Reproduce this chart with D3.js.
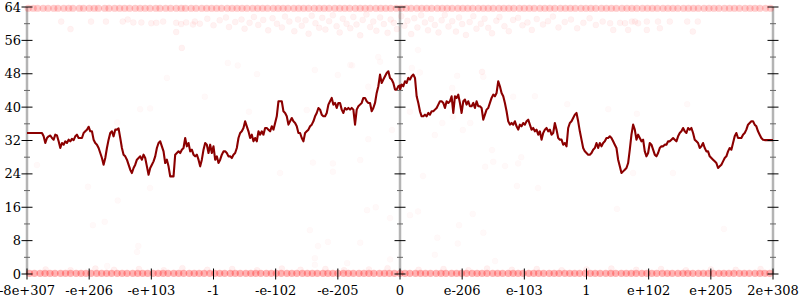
<!DOCTYPE html>
<html lang="en">
<head>
<meta charset="UTF-8">
<title>Dual exponent scatter</title>
<script src="https://d3js.org/d3.v7.min.js"></script>
<style>
    body { margin: 0; background: #fff; }
    text { font-family: "DejaVu Serif", serif; font-size: 13px; fill: #000; }
</style>
</head>
<body>
<script>
// tick labels along the x axis (one per tick unit, -6 .. 6)
var xLabels = ["-8e+307", "-e+206", "-e+103", "-1", "-e-102", "-e-205", "0",
               "e-206", "e-103", "1", "e+102", "e+205", "2e+308"];
var yMajor = [0, 8, 16, 24, 32, 40, 48, 56, 64];
var yMinor = [4, 12, 20, 28, 36, 44, 52, 60];

// running line, negative half (from -8e+307 up to 0)
var leftLine = [
    33.8,33.8,33.8,33.8,33.8,33.8,33.8,33.8,33.8,33.8,
    33.0,31.4,32.6,33.0,33.2,32.6,32.2,33.4,33.2,31.8,
    30.2,31.4,31.0,31.8,31.4,32.2,31.8,32.4,32.1,33.0,
    33.4,32.6,32.6,32.6,33.8,34.2,34.6,35.3,34.2,34.2,
    32.2,31.4,31.0,30.2,29.0,27.8,26.2,27.8,30.2,32.2,
    33.8,34.2,33.0,34.6,34.6,34.9,32.6,30.2,28.6,28.2,
    27.4,26.2,25.0,24.2,25.4,26.2,27.4,27.8,28.2,27.4,
    28.6,27.8,25.8,23.8,25.4,26.2,27.0,28.2,30.2,31.4,
    31.8,30.6,29.4,26.6,27.4,25.8,23.4,23.4,23.4,28.6,
    29.0,29.4,29.0,29.8,30.2,32.6,30.6,31.4,29.4,29.8,
    28.6,28.2,28.6,27.4,25.8,27.4,29.8,31.4,31.0,29.0,
    31.0,29.0,30.6,27.4,28.2,26.6,27.4,28.6,29.4,29.4,
    29.0,28.2,28.2,27.8,28.6,29.0,30.2,32.6,33.8,34.2,
    35.0,36.6,35.4,34.2,32.6,33.4,31.8,32.6,31.8,34.2,
    33.4,34.2,33.4,35.0,35.0,34.6,34.2,35.4,34.6,36.2,
    37.8,41.4,41.4,41.4,39.0,38.6,37.8,35.8,36.6,37.4,
    36.6,36.2,35.4,33.8,33.8,32.6,31.8,33.8,34.2,34.6,
    35.4,35.8,36.6,37.8,38.6,39.8,39.4,38.2,37.8,37.8,
    38.6,40.6,41.4,42.2,40.6,41.0,39.8,41.0,41.0,39.4,
    38.6,39.8,39.4,39.8,39.4,39.8,39.4,35.8,39.4,40.2,
    40.6,41.0,42.2,42.2,41.4,41.0,41.0,39.0,39.8,41.0,
    43.4,45.0,47.8,45.8,46.6,47.4,48.2,48.6,47.0,46.6,
    45.8,44.2,44.2,45.0,45.2
];
// running line, positive half (from 0 up to 2e+308)
var rightLine = [
    44.2,45.4,45.0,46.2,45.8,47.0,46.6,47.4,47.8,47.0,
    42.6,41.0,39.0,37.8,37.8,38.2,37.8,38.6,38.2,39.0,
    39.0,39.4,39.8,40.6,41.4,41.4,41.0,39.8,41.4,41.0,
    41.4,42.6,38.6,42.6,42.2,43.0,41.0,38.6,41.4,41.8,
    40.6,41.4,40.2,40.2,41.0,39.8,41.4,40.2,40.2,39.8,
    37.0,38.2,39.4,39.8,41.0,42.2,43.0,42.6,43.4,46.2,
    45.0,43.4,42.6,41.0,39.0,36.6,35.8,36.2,35.8,36.6,
    35.4,34.6,35.8,35.4,36.2,35.8,36.6,37.0,35.8,34.6,
    35.0,34.2,34.6,33.4,34.2,32.2,33.8,34.6,35.0,34.2,
    34.6,33.4,33.8,36.2,34.6,32.6,32.2,32.2,31.0,31.4,
    30.6,35.0,36.2,36.6,37.4,38.2,38.6,36.6,34.2,32.2,
    30.2,29.4,29.0,28.6,28.6,29.0,29.8,30.2,31.4,30.2,
    31.4,30.6,31.4,31.8,32.6,32.6,33.0,32.6,31.8,31.0,
    30.2,27.4,25.8,24.2,24.6,25.0,25.4,26.6,29.8,33.4,
    35.8,34.6,32.2,33.4,32.6,31.8,32.2,29.4,28.2,29.0,
    31.4,31.0,29.8,28.6,28.2,29.0,30.2,30.6,30.6,31.0,
    31.0,31.8,31.8,32.2,32.6,32.2,31.8,33.0,33.8,34.2,
    35.0,34.2,33.8,35.0,34.6,35.0,33.8,32.2,31.8,31.4,
    30.2,30.6,31.4,30.2,29.4,29.4,28.2,27.8,27.4,27.0,
    26.6,25.4,25.8,26.2,27.0,27.8,28.2,29.4,30.2,29.8,
    31.4,33.0,33.8,32.6,32.6,32.6,33.4,33.8,34.6,35.8,
    36.2,36.6,36.6,35.8,35.4,34.2,33.4,32.6,32.2,32.1,
    32.1,32.1,32.1,32.1,32.1
];

// saturated samples piled at the top (64) and bottom (0), x in tick units
var topBand = [-5.98,-5.9,-5.83,-5.74,-5.66,-5.57,-5.5,-5.41,-5.33,-5.26,-5.16,-5.09,-5.0,-4.92,-4.85,-4.75,-4.68,-4.59,-4.51,-4.43,-4.35,-4.26,-4.18,-4.1,-4.02,-3.93,-3.86,-3.77,-3.69,-3.6,-3.52,-3.45,-3.36,-3.28,-3.19,-3.11,-3.03,-2.95,-2.87,-2.78,-2.7,-2.62,-2.54,-2.46,-2.37,-2.29,-2.21,-2.13,-2.04,-1.96,-1.88,-1.8,-1.71,-1.63,-1.55,-1.47,-1.38,-1.3,-1.22,-1.14,-1.05,-0.97,-0.89,-0.81,-0.72,-0.64,-0.56,-0.48,-0.39,-0.31,-0.23,-0.15,-0.06,0.02,0.1,0.18,0.27,0.35,0.43,0.51,0.6,0.68,0.76,0.84,0.93,1.01,1.09,1.17,1.26,1.34,1.42,1.5,1.59,1.67,1.75,1.83,1.92,2.0,2.08,2.16,2.25,2.33,2.41,2.49,2.58,2.66,2.74,2.82,2.91,2.99,3.07,3.15,3.24,3.32,3.4,3.48,3.57,3.65,3.73,3.81,3.9,3.98,4.06,4.14,4.23,4.31,4.39,4.47,4.56,4.64,4.72,4.8,4.89,4.97,5.05,5.13,5.22,5.3,5.38,5.46,5.55,5.63,5.71,5.79,5.88,5.96];
var bottomBand = [-5.96,-5.88,-5.79,-5.71,-5.63,-5.55,-5.46,-5.38,-5.3,-5.21,-5.13,-5.05,-4.97,-4.88,-4.8,-4.72,-4.64,-4.55,-4.47,-4.39,-4.3,-4.22,-4.14,-4.06,-3.97,-3.89,-3.81,-3.73,-3.64,-3.56,-3.48,-3.39,-3.31,-3.23,-3.15,-3.06,-2.98,-2.9,-2.82,-2.73,-2.65,-2.57,-2.48,-2.4,-2.32,-2.24,-2.15,-2.07,-1.99,-1.91,-1.82,-1.74,-1.66,-1.57,-1.49,-1.41,-1.33,-1.24,-1.16,-1.08,-1.0,-0.91,-0.83,-0.75,-0.66,-0.58,-0.5,-0.42,-0.33,-0.25,-0.17,-0.09,0.0,0.08,0.16,0.25,0.33,0.41,0.49,0.58,0.66,0.74,0.83,0.91,0.99,1.07,1.16,1.24,1.32,1.4,1.49,1.57,1.65,1.74,1.82,1.9,1.98,2.07,2.15,2.23,2.31,2.4,2.48,2.56,2.65,2.73,2.81,2.89,2.98,3.06,3.14,3.22,3.31,3.39,3.47,3.56,3.64,3.72,3.8,3.89,3.97,4.05,4.13,4.22,4.3,4.38,4.47,4.55,4.63,4.71,4.8,4.88,4.96,5.04,5.13,5.21,5.29,5.37,5.46,5.54,5.62,5.71,5.79,5.87,5.95];

// near-saturated cloud just under the top, [x, y]
var topCloud = [
    [-5.45,60.5],[-5.3,58.7],[-4.97,60.5],[-4.73,60.5],[-4.46,60.5],[-4.38,61],[-4.29,60.3],[-4.16,60.3],
    [-4.0,60.1],[-3.92,60.2],[-3.81,60.5],[-3.6,60.2],[-3.6,58],[-3.52,59.9],[-3.51,54.2],[-3.44,60.3],
    [-3.33,59.8],[-3.3,60.5],[-3.22,60],
    [-3.1,61.2],[-3.0,59.6],[-2.9,60.8],[-2.8,61.5],[-2.75,59.2],[-2.65,60.4],[-2.55,61.0],[-2.5,58.8],
    [-2.42,60.2],[-2.35,61.6],[-2.28,59.7],[-2.2,60.9],[-2.12,58.4],[-2.05,61.3],[-1.98,60.0],[-1.9,59.1],
    [-1.85,61.7],[-1.78,60.5],[-1.7,58.2],[-1.64,61.0],[-1.58,59.5],[-1.52,60.8],[-1.47,57.6],[-1.42,61.9],
    [-1.36,60.1],[-1.3,59.0],[-1.25,61.4],[-1.2,58.6],[-1.14,60.6],[-1.08,62.0],[-1.02,59.4],[-0.97,57.9],
    [-0.92,61.2],[-0.86,60.0],[-0.8,58.9],[-0.75,61.6],[-0.7,59.8],[-0.64,57.2],[-0.6,60.9],[-0.54,62.2],
    [-0.48,59.2],[-0.43,60.5],[-0.38,58.3],[-0.32,61.5],[-0.26,59.9],[-0.2,57.8],[-0.15,61.0],[-0.1,60.2],
    [-0.05,58.7],[0.02,61.8],[0.07,59.5],[0.12,60.7],[0.18,57.5],[0.23,61.3],[0.28,59.1],[0.34,62.0],
    [0.4,60.3],[0.45,58.4],[0.5,61.1],[0.56,59.7],[0.62,57.9],[0.67,60.8],[0.72,62.1],[0.78,59.3],
    [0.84,60.6],[0.9,58.1],[0.95,61.5],[1.0,59.9],[1.06,57.3],[1.12,60.4],[1.18,61.8],[1.23,58.8],
    [1.3,60.0],[1.36,61.2],[1.42,59.0],[1.48,57.7],[1.55,60.7],[1.6,61.6],[1.68,59.4],[1.75,58.2],
    [1.82,60.9],[1.9,61.4],[1.97,59.6],[2.05,60.3],[2.12,58.5],[2.2,61.1],[2.3,59.8],[2.38,60.6],
    [2.46,61.7],[2.55,59.1],[2.65,60.4],[2.75,61.0],[2.85,58.9],[2.95,60.2],[3.05,61.3],[3.15,59.7],
    [3.26,60.5],[3.38,60.1],[3.43,58.5],[3.54,60.2],[3.62,60.1],[3.67,58.5],[3.73,60.5],[3.78,60.5],
    [3.83,60.1],[3.97,60.5],[3.97,58.5],[4.15,60.5],[4.18,58.9],[4.34,60.5],[4.62,60.5],[4.71,58.1],[4.79,60.5]
];
// faint samples just above the floor, [x, y]
var lowCloud = [
    [-5.7,1.1],[-5.3,0.9],[-4.9,1.3],[-4.6,1.0],[-4.2,1.2],[-3.8,0.9],[-3.5,1.4],[-3.1,1.0],
    [-2.7,1.2],[-2.3,0.9],[-1.9,1.3],[-1.6,1.0],[-1.2,1.2],[-0.9,0.9],[-0.5,1.1],[-0.2,1.4],
    [0.3,1.0],[0.7,1.2],[1.1,0.9],[1.4,1.3],[1.8,1.0],[2.2,1.2],[2.6,0.9],[3.0,1.1],
    [3.4,1.3],[3.8,1.0],[4.2,1.2],[4.6,0.9],[5.0,1.1],[5.4,1.0],[5.8,1.2]
];
// sparse samples scattered through the middle, [x, y]
var midCloud = [
    [-4.94,11.7],[-4.75,12.5],[-4.54,17.6],[-4.23,5.3],[-4.21,6.7],[-4.71,1.9],[-0.39,16],[-0.53,15.3],
    [-0.16,13.4],[0.16,14.1],[0.29,15],[1.17,14.4],[-1.45,10.5],[-1.16,7.7],[-1.32,6.7],[-0.64,7.5],
    [0.6,8.7],[0.95,11.7],[1.34,9.9],[0.93,7.3],[0.56,4.6],[-1.37,3.8],[-1.37,2.2],[-0.85,2.6],
    [1.53,3.1],[-0.16,3.5],[-1.37,48.9],[-0.32,50.9],[-0.8,50.1],[0.29,53.7],[1.32,48.5],[-1.0,47.7],
    [-2.77,50.6],[-2.61,50],[-3.75,47],[-2.3,47.9],[-3.14,42.5],[-0.77,50],[-0.35,52],[-0.51,44.9],
    [-4.18,39.5],[-4.02,39.7],[-1.5,39.3],[-2.43,38.9],[-4.55,36.3],[-0.13,34.5],[-0.51,32.3],[-5.84,26.1],
    [-1.4,26.7],[-0.64,27.3],[-1.08,26.5],[-1.08,24.5],[-1.93,24.2],[-5.02,20.9],[-4.02,20.6],[0.19,49.4],
    [0.32,48.3],[0.92,47.5],[1.32,48.4],[1.34,47.3],[0.84,44.6],[1.82,42.5],[2.17,42.6],[2.69,40.7],
    [3.35,39.5],[4.62,40.7],[3.81,38.4],[0.16,38.9],[0.85,37.7],[1.13,36.2],[0.68,36.2],[0.56,33.3],
    [1.01,34.5],[1.48,29.7],[1.5,26.9],[1.95,28],[1.9,26.5],[1.69,25.9],[1.37,25.7],[0.37,23.5],
    [3.75,24.2],[4.39,24.2],[1.88,21.1],[2.22,20.6],[3.49,15.6],[5.21,10.8]
];

var width = 800, height = 300;
var x = d3.scaleLinear().domain([-6, 6]).range([27, 773]);
var y = d3.scaleLinear().domain([0, 64]).range([274, 7]);
var iLeft = d3.scaleLinear().domain([0, leftLine.length - 1]).range([-6, 0]);
var iRight = d3.scaleLinear().domain([0, rightLine.length - 1]).range([0, 6]);

var svg = d3.select("body").append("svg")
    .attr("width", width)
    .attr("height", height);

// axis spines at both ends and at zero
var spines = [-6, 0, 6];
svg.selectAll(".spine").data(spines).enter().append("line")
    .attr("class", "spine")
    .attr("x1", d => x(d)).attr("x2", d => x(d))
    .attr("y1", y(64)).attr("y2", y(0))
    .attr("stroke", "#b4b4b4").attr("stroke-width", 2.5);

// scatter clouds
function dots(cls, data, r, fo, so) {
    svg.selectAll("." + cls).data(data).enter().append("circle")
        .attr("class", cls)
        .attr("cx", d => x(d[0]))
        .attr("cy", d => y(d[1]))
        .attr("r", r)
        .attr("fill", "red").attr("fill-opacity", fo)
        .attr("stroke", "red").attr("stroke-opacity", so).attr("stroke-width", 0.6);
}
dots("mid", midCloud, 3, 0.025, 0.03);
dots("low", lowCloud, 3, 0.06, 0.05);
dots("topc", topCloud, 3, 0.05, 0.05);
dots("topb", topBand.map(v => [v, 63.7]), 3.6, 0.2, 0);
dots("botb", bottomBand.map(v => [v, 0.15]), 3.6, 0.3, 0);

// the line
var line = d3.line().x(d => x(d[0])).y(d => y(d[1]));
var pts = leftLine.map((v, i) => [iLeft(i), v]).concat(rightLine.map((v, i) => [iRight(i), v]));
svg.append("path").datum(pts)
    .attr("d", line)
    .attr("fill", "none")
    .attr("stroke", "#8b0000")
    .attr("stroke-width", 2.1)
    .attr("stroke-linejoin", "round");

// y ticks on each spine
spines.forEach(function (s) {
    var cx = x(s);
    svg.selectAll(".mn" + (s + 6)).data(yMinor).enter().append("line")
        .attr("x1", cx - 3).attr("x2", cx + 3)
        .attr("y1", d => y(d)).attr("y2", d => y(d))
        .attr("stroke", "#666").attr("stroke-width", 1);
    svg.selectAll(".mj" + (s + 6)).data(yMajor).enter().append("line")
        .attr("x1", cx - 5.5).attr("x2", cx + 5.5)
        .attr("y1", d => y(d)).attr("y2", d => y(d))
        .attr("stroke", "#000").attr("stroke-width", 1);
});
svg.selectAll(".ylab").data(yMajor).enter().append("text")
    .attr("class", "ylab")
    .attr("x", 21).attr("y", d => y(d) + 4.5)
    .attr("text-anchor", "end")
    .text(d => d);

// x ticks and labels
svg.selectAll(".xt").data(xLabels).enter().append("line")
    .attr("class", "xt")
    .attr("x1", (d, i) => x(i - 6)).attr("x2", (d, i) => x(i - 6))
    .attr("y1", y(0) - 5.5).attr("y2", y(0) + 5.5)
    .attr("stroke", "#000").attr("stroke-width", 1);
svg.selectAll(".xlab").data(xLabels).enter().append("text")
    .attr("class", "xlab")
    .attr("x", (d, i) => x(i - 6)).attr("y", 295)
    .attr("text-anchor", "middle")
    .text(d => d);
</script>
</body>
</html>
